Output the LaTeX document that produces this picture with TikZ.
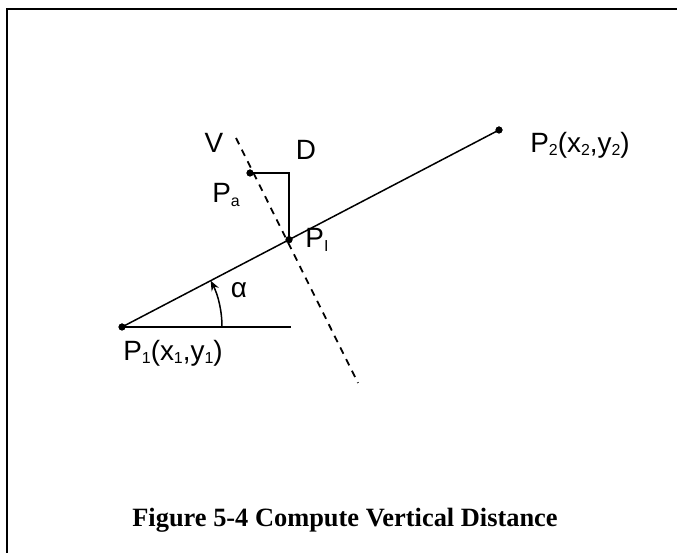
\documentclass[tikz,border=0pt]{standalone}
\usepackage{fontspec}
\setmainfont{Liberation Sans}
\newfontfamily\capfont{Liberation Serif}
\usetikzlibrary{arrows.meta,calc}
\newcommand{\sbx}[1]{\raisebox{-0.12em}{\fontsize{16}{16}\selectfont #1}}
\begin{document}
\begin{tikzpicture}[x=1bp,y=1bp,
  lbl/.style={inner sep=0pt,font=\fontsize{28}{30}\selectfont},
  dot/.style={circle,fill=black,inner sep=0pt,minimum size=7bp},
  seg/.style={line width=1.5bp},
  dashline/.style={line width=1.8bp,dash pattern=on 7bp off 6bp}]
\useasboundingbox (0,0) rectangle (677,553);
% frame (top and left only)
\draw[line width=2.2bp] (7,0) -- (7,544) -- (677,544);
% points
\node[dot] (P1) at (122,226) {};
\node[dot] (P2) at (499,423) {};
\node[dot] (Pi) at (289,313.3) {};
\node[dot] (Pa) at (250,380) {};
\coordinate (H) at (291,226);
\coordinate (Vt) at (236,415);
\coordinate (Vb) at (358,170);
\coordinate (C) at (Pa -| Pi);
% lines
\draw[seg] (P1.center) -- (P2.center);
\draw[seg] (P1.center) -- (H);
\draw[dashline] (Vt) -- (Vb);
\draw[seg] (Pa.center) -- (C) -- (Pi.center);
\draw[seg,-{Stealth[length=10bp,width=8bp]}] ([xshift=100bp]P1.center) arc[start angle=0,end angle=27.6,radius=100bp];
% redraw dots on top
\node[dot] at (P1) {};
\node[dot] at (P2) {};
\node[dot] at (Pi) {};
\node[dot] at (Pa) {};
% labels
\node[lbl] (lV) at (214,410) {V};
\node[lbl] (lD) at (306,403) {D};
\node[lbl] (lPa) at (226,358) {P\sbx{a}};
\node[lbl] (lPi) at (317,313) {P\sbx{I}};
\node[lbl] (lal) at (239,263) {α};
\node[lbl] (lP1) at (173,200) {P\sbx{1}(x\sbx{1},y\sbx{1})};
\node[lbl] (lP2) at (580,408) {P\sbx{2}(x\sbx{2},y\sbx{2})};
\node[inner sep=0pt,font=\capfont\bfseries\fontsize{26.5}{28}\selectfont] (cap) at (345,33) {Figure 5-4 Compute Vertical Distance};
\end{tikzpicture}
\end{document}
